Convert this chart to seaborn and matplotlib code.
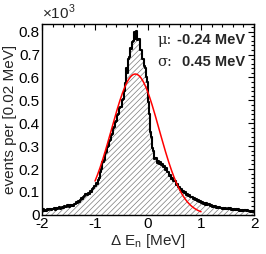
import numpy as np
import pandas as pd
import seaborn as sns
import matplotlib.pyplot as plt
from matplotlib.ticker import MultipleLocator, FuncFormatter

sns.set_style("white")
plt.rcParams['font.family'] = ['Liberation Sans', 'DejaVu Sans']
plt.rcParams['mathtext.fontset'] = 'custom'
plt.rcParams['mathtext.rm'] = 'Liberation Sans'
plt.rcParams['hatch.linewidth'] = 0.5
plt.rcParams['hatch.color'] = '#7a7a7a'

# histogram: 200 bins of 0.02 MeV between -2 and 2 (counts)
bin_lo, bin_hi = -2.0, 2.0
counts = [
    16, 24, 19, 22, 17, 25, 21, 26, 20, 27,
    24, 29, 23, 31, 26, 28, 33, 25, 30, 34,
    31, 38, 33, 36, 41, 34, 43, 38, 45, 40,
    49, 46, 56, 52, 61, 58, 67, 74, 69, 80,
    83, 91, 85, 96, 90, 103, 99, 111, 117, 126,
    128, 140, 137, 152, 160, 188, 200, 232, 240, 270,
    276, 298, 301, 322, 326, 350, 354, 380, 384, 405,
    408, 436, 440, 466, 472, 500, 506, 540, 575, 640,
    620, 680, 690, 730, 725, 755, 760, 800, 770, 805,
    765, 770, 722, 718, 680, 680, 648, 640, 600, 580,
    495, 440, 360, 338, 292, 280, 245, 248, 228, 236,
    222, 232, 216, 224, 208, 214, 198, 203, 186, 186,
    170, 172, 158, 160, 146, 147, 132, 134, 120, 122,
    110, 114, 102, 106, 95, 99, 88, 92, 82, 86,
    76, 80, 71, 75, 66, 70, 62, 65, 57, 61,
    52, 57, 49, 53, 45, 50, 42, 46, 39, 43,
    36, 40, 34, 38, 32, 36, 30, 33, 29, 32,
    27, 31, 26, 30, 25, 29, 24, 28, 23, 27,
    22, 27, 21, 25, 20, 24, 19, 23, 18, 22,
    17, 21, 16, 20, 15, 18, 13, 16, 11, 14,
]

# gaussian fit parameters
fit_mu = -0.24
fit_sigma = 0.45
fit_amp = 615
fit_range = (-1.0, 1.0)

edges = np.linspace(bin_lo, bin_hi, len(counts) + 1).tolist()
centers = [0.5 * (a + b) for a, b in zip(edges[:-1], edges[1:])]
df = pd.DataFrame({'dE': centers, 'n': np.array(counts) / 1000.0})

fx = np.linspace(fit_range[0], fit_range[1], 300)
fit = pd.DataFrame({'dE': fx,
                    'n': fit_amp / 1000.0 * np.exp(-0.5 * ((fx - fit_mu) / fit_sigma) ** 2)})

fig = plt.figure(figsize=(2.66, 2.54), dpi=100)
ax = fig.add_axes([0.158, 0.154, 0.797, 0.752])

# hatched area
sns.histplot(data=df, x='dE', weights='n', bins=edges, element='step', fill=True,
             facecolor='white', edgecolor='#7a7a7a', linewidth=0, hatch='//////',
             alpha=1, ax=ax)
# black outline
sns.histplot(data=df, x='dE', weights='n', bins=edges, element='step', fill=False,
             color='black', linewidth=1.5, ax=ax)
sns.lineplot(data=fit, x='dE', y='n', color='red', linewidth=1.1, ax=ax)

ax.set_xlim(-2, 2)
ax.set_ylim(0, 0.834)
ax.xaxis.set_major_locator(MultipleLocator(1))
ax.xaxis.set_minor_locator(MultipleLocator(0.2))
ax.yaxis.set_major_locator(MultipleLocator(0.1))
ax.yaxis.set_minor_locator(MultipleLocator(0.02))
ax.yaxis.set_major_formatter(FuncFormatter(lambda v, p: '0' if abs(v) < 1e-9 else f'{v:.1f}'))
ax.xaxis.set_major_formatter(FuncFormatter(lambda v, p: f'{v:.0f}'))
ax.tick_params(which='both', direction='in', top=True, right=True, labelsize=11, colors='black')
ax.tick_params(which='major', length=4.5, width=0.8, pad=1.5)
ax.tick_params(which='minor', length=2.2, width=0.8)
for s in ax.spines.values():
    s.set_visible(True)
    s.set_color('black')
    s.set_linewidth(1.0)

ax.set_xlabel('Δ E$_{\\mathregular{n}}$ [MeV]', fontsize=11, labelpad=1)
ax.set_ylabel('events per [0.02 MeV]', fontsize=11, labelpad=1)
ax.text(0.0, 1.01, '×10$^{\\mathregular{3}}$', transform=ax.transAxes, fontsize=11,
        ha='left', va='bottom')

ax.text(0.545, 0.915, 'μ:', transform=ax.transAxes, fontsize=10.5, family='DejaVu Serif',
        ha='left', va='center')
ax.text(0.958, 0.915, '-0.24 MeV', transform=ax.transAxes, fontsize=10.5, fontweight='bold',
        ha='right', va='center')
ax.text(0.545, 0.80, 'σ:', transform=ax.transAxes, fontsize=10.5, family='DejaVu Serif',
        ha='left', va='center')
ax.text(0.958, 0.80, '0.45 MeV', transform=ax.transAxes, fontsize=10.5, fontweight='bold',
        ha='right', va='center')

fig.savefig('out.png', dpi=100)
